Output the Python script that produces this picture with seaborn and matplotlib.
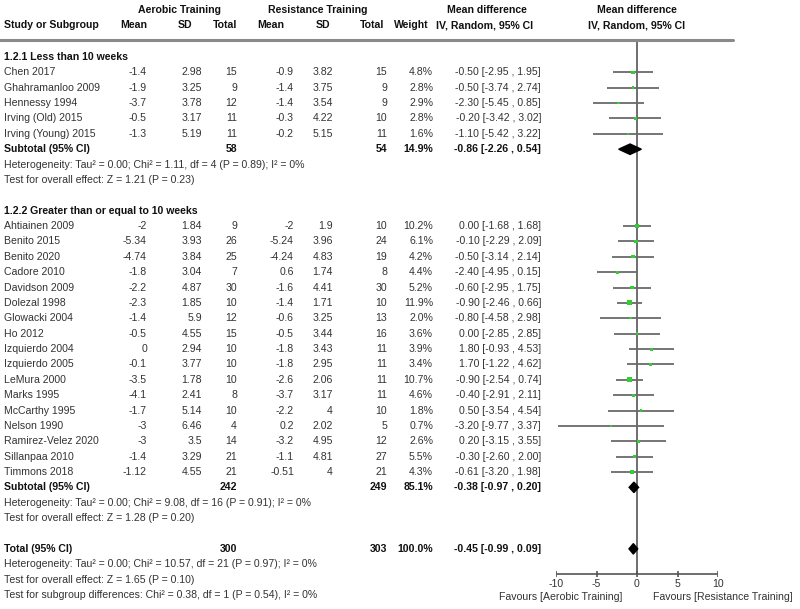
import numpy as np
import pandas as pd
import matplotlib
matplotlib.use("Agg")
import matplotlib.pyplot as plt
import matplotlib.transforms as mtransforms
import seaborn as sns

sns.set_style("white")
plt.rcParams['font.family'] = ['Liberation Sans', 'DejaVu Sans']

# --- Study level data ---
studies = ["Chen 2017", "Ghahramanloo 2009", "Hennessy 1994", "Irving (Old) 2015",
           "Irving (Young) 2015", "Ahtiainen 2009", "Benito 2015", "Benito 2020",
           "Cadore 2010", "Davidson 2009", "Dolezal 1998", "Glowacki 2004", "Ho 2012",
           "Izquierdo 2004", "Izquierdo 2005", "LeMura 2000", "Marks 1995",
           "McCarthy 1995", "Nelson 1990", "Ramirez-Velez 2020", "Sillanpaa 2010",
           "Timmons 2018"]
group = [1] * 5 + [2] * 17
aero_mean = [-1.4, -1.9, -3.7, -0.5, -1.3, -2, -5.34, -4.74, -1.8, -2.2, -2.3, -1.4,
             -0.5, 0, -0.1, -3.5, -4.1, -1.7, -3, -3, -1.4, -1.12]
aero_sd = [2.98, 3.25, 3.78, 3.17, 5.19, 1.84, 3.93, 3.84, 3.04, 4.87, 1.85, 5.9,
           4.55, 2.94, 3.77, 1.78, 2.41, 5.14, 6.46, 3.5, 3.29, 4.55]
aero_n = [15, 9, 12, 11, 11, 9, 26, 25, 7, 30, 10, 12, 15, 10, 10, 10, 8, 10, 4, 14, 21, 21]
res_mean = [-0.9, -1.4, -1.4, -0.3, -0.2, -2, -5.24, -4.24, 0.6, -1.6, -1.4, -0.6,
            -0.5, -1.8, -1.8, -2.6, -3.7, -2.2, 0.2, -3.2, -1.1, -0.51]
res_sd = [3.82, 3.75, 3.54, 4.22, 5.15, 1.9, 3.96, 4.83, 1.74, 4.41, 1.71, 3.25,
          3.44, 3.43, 2.95, 2.06, 3.17, 4, 2.02, 4.95, 4.81, 4]
res_n = [15, 9, 9, 10, 11, 10, 24, 19, 8, 30, 10, 13, 16, 11, 11, 11, 11, 10, 5, 12, 27, 21]
weight = [4.8, 2.8, 2.9, 2.8, 1.6, 10.2, 6.1, 4.2, 4.4, 5.2, 11.9, 2.0, 3.6, 3.9,
          3.4, 10.7, 4.6, 1.8, 0.7, 2.6, 5.5, 4.3]
md = [-0.50, -0.50, -2.30, -0.20, -1.10, 0.00, -0.10, -0.50, -2.40, -0.60, -0.90,
      -0.80, 0.00, 1.80, 1.70, -0.90, -0.40, 0.50, -3.20, 0.20, -0.30, -0.61]
ci_lo = [-2.95, -3.74, -5.45, -3.42, -5.42, -1.68, -2.29, -3.14, -4.95, -2.95, -2.46,
         -4.58, -2.85, -0.93, -1.22, -2.54, -2.91, -3.54, -9.77, -3.15, -2.60, -3.20]
ci_hi = [1.95, 2.74, 0.85, 3.02, 3.22, 1.68, 2.09, 2.14, 0.15, 1.75, 0.66, 2.98,
         2.85, 4.53, 4.62, 0.74, 2.11, 4.54, 3.37, 3.55, 2.00, 1.98]

# --- Subgroup / total data ---
group_titles = ["1.2.1 Less than 10 weeks", "1.2.2 Greater than or equal to 10 weeks"]
sub_n_aero = [58, 242]
sub_n_res = [54, 249]
sub_weight = [14.9, 85.1]
sub_md = [-0.86, -0.38]
sub_lo = [-2.26, -0.97]
sub_hi = [0.54, 0.20]
sub_het = ["Heterogeneity: Tau² = 0.00; Chi² = 1.11, df = 4 (P = 0.89); I² = 0%",
           "Heterogeneity: Tau² = 0.00; Chi² = 9.08, df = 16 (P = 0.91); I² = 0%"]
sub_z = ["Test for overall effect: Z = 1.21 (P = 0.23)",
         "Test for overall effect: Z = 1.28 (P = 0.20)"]
total_n = [300, 303]
total_weight = 100.0
total_md, total_lo, total_hi = -0.45, -0.99, 0.09
total_notes = ["Heterogeneity: Tau² = 0.00; Chi² = 10.57, df = 21 (P = 0.97); I² = 0%",
               "Test for overall effect: Z = 1.65 (P = 0.10)",
               "Test for subgroup differences: Chi² = 0.38, df = 1 (P = 0.54), I² = 0%"]
x_ticks = [-10, -5, 0, 5, 10]
favours = ["Favours [Aerobic Training]", "Favours [Resistance Training]"]

df = pd.DataFrame({'study': studies, 'group': group, 'aero_mean': aero_mean,
                   'aero_sd': aero_sd, 'aero_n': aero_n, 'res_mean': res_mean,
                   'res_sd': res_sd, 'res_n': res_n, 'weight': weight, 'md': md,
                   'lo': ci_lo, 'hi': ci_hi})

# assign row positions (row 0 = first subgroup heading)
rows, sub_rows, head_rows, r = [], [], [], 0
for g in (1, 2):
    head_rows.append(r)
    r += 1
    n = (df['group'] == g).sum()
    rows += list(range(r, r + n))
    r += n
    sub_rows.append(r)
    r += 4
df['row'] = rows
total_row = sub_rows[-1] + 4

W, H = 800, 609
ROW0, ROWH = 57, 15.37
fig = plt.figure(figsize=(W / 100, H / 100), dpi=100)
ax = fig.add_axes([556 / W, 0, 162 / W, 1])

def px_row(y):
    return (y - ROW0) / ROWH

tr = mtransforms.blended_transform_factory(fig.transFigure, ax.transData)
FS = 7.6
TXT = '#333333'

def put(x, row, s, ha='left', bold=False):
    ax.text(x / W, row, s, transform=tr, ha=ha, va='center', fontsize=FS,
            fontweight='bold' if bold else 'normal',
            color='#111111' if bold else TXT)

# headers
hr1, hr2 = px_row(10), px_row(25)
put(179, hr1, "Aerobic Training", ha='center', bold=True)
put(318, hr1, "Resistance Training", ha='center', bold=True)
put(487, hr1, "Mean difference", ha='center', bold=True)
put(637, hr1, "Mean difference", ha='center', bold=True)
put(4, hr2, "Study or Subgroup", bold=True)
for x, s in [(134, "Mean"), (185, "SD"), (225, "Total"), (271, "Mean"),
             (323, "SD"), (372, "Total"), (411, "Weight"),
             (485, "IV, Random, 95% CI"), (637, "IV, Random, 95% CI")]:
    put(x, hr2, s, ha='center', bold=True)
fig.add_artist(plt.Line2D([0, 733 / W], [1 - 40 / H, 1 - 40 / H],
                          color='#8a8a8a', lw=2.2))

def ci_text(m, lo, hi):
    return f"{m:.2f} [{lo:.2f} , {hi:.2f}]"

# study rows
for _, d in df.iterrows():
    rr = d['row']
    put(4, rr, d['study'])
    put(147, rr, f"{d['aero_mean']:g}", ha='right')
    put(202, rr, f"{d['aero_sd']:g}", ha='right')
    put(237, rr, f"{d['aero_n']:d}", ha='right')
    put(294, rr, f"{d['res_mean']:g}", ha='right')
    put(333, rr, f"{d['res_sd']:g}", ha='right')
    put(387, rr, f"{d['res_n']:d}", ha='right')
    put(433, rr, f"{d['weight']:.1f}%", ha='right')
    put(541, rr, ci_text(d['md'], d['lo'], d['hi']), ha='right')

# subgroup rows
for i in range(2):
    sr = sub_rows[i]
    put(4, head_rows[i], group_titles[i], bold=True)
    put(4, sr, "Subtotal (95% CI)", bold=True)
    put(237, sr, f"{sub_n_aero[i]}", ha='right', bold=True)
    put(387, sr, f"{sub_n_res[i]}", ha='right', bold=True)
    put(433, sr, f"{sub_weight[i]:.1f}%", ha='right', bold=True)
    put(541, sr, ci_text(sub_md[i], sub_lo[i], sub_hi[i]), ha='right', bold=True)
    put(4, sr + 1, sub_het[i])
    put(4, sr + 2, sub_z[i])

put(4, total_row, "Total (95% CI)", bold=True)
put(237, total_row, f"{total_n[0]}", ha='right', bold=True)
put(387, total_row, f"{total_n[1]}", ha='right', bold=True)
put(433, total_row, f"{total_weight:.1f}%", ha='right', bold=True)
put(541, total_row, ci_text(total_md, total_lo, total_hi), ha='right', bold=True)
for k, s in enumerate(total_notes):
    put(4, total_row + 1 + k, s)

# forest plot
axis_row = px_row(574)
ax.vlines(0, px_row(40), axis_row, color='#555555', lw=1.2, zorder=1)
ax.hlines(df['row'], df['lo'], df['hi'], color='#6a6a6a', lw=1.3, zorder=2)
sns.scatterplot(data=df, x='md', y='row', size='weight', sizes=(1.5, 13),
                marker='s', color='#2fcf2f', edgecolor='none', legend=False,
                ax=ax, zorder=3)
ax.set_xlim(-10, 10)
ax.set_ylim((H - ROW0) / ROWH, -ROW0 / ROWH)
ax.axis('off')

dh = 0.34
for m, lo, hi, rr in zip(sub_md + [total_md], sub_lo + [total_lo],
                         sub_hi + [total_hi], sub_rows + [total_row]):
    ax.fill([lo, m, hi, m], [rr, rr - dh, rr, rr + dh], color='black', zorder=4)

ax.hlines(axis_row, -10, 10, color='#555555', lw=1.2)
ax.vlines(x_ticks, axis_row - 0.18, axis_row + 0.18, color='#555555', lw=1.2)
for t in x_ticks:
    ax.text(t, px_row(584), f"{t}", ha='center', va='center', fontsize=FS, color=TXT)
ax.text((622 - 556) / 162 * 20 - 10, px_row(597), favours[0],
        ha='right', va='center', fontsize=FS, color=TXT)
ax.text((653 - 556) / 162 * 20 - 10, px_row(597), favours[1],
        ha='left', va='center', fontsize=FS, color=TXT)

fig.savefig("out.png", dpi=100)
